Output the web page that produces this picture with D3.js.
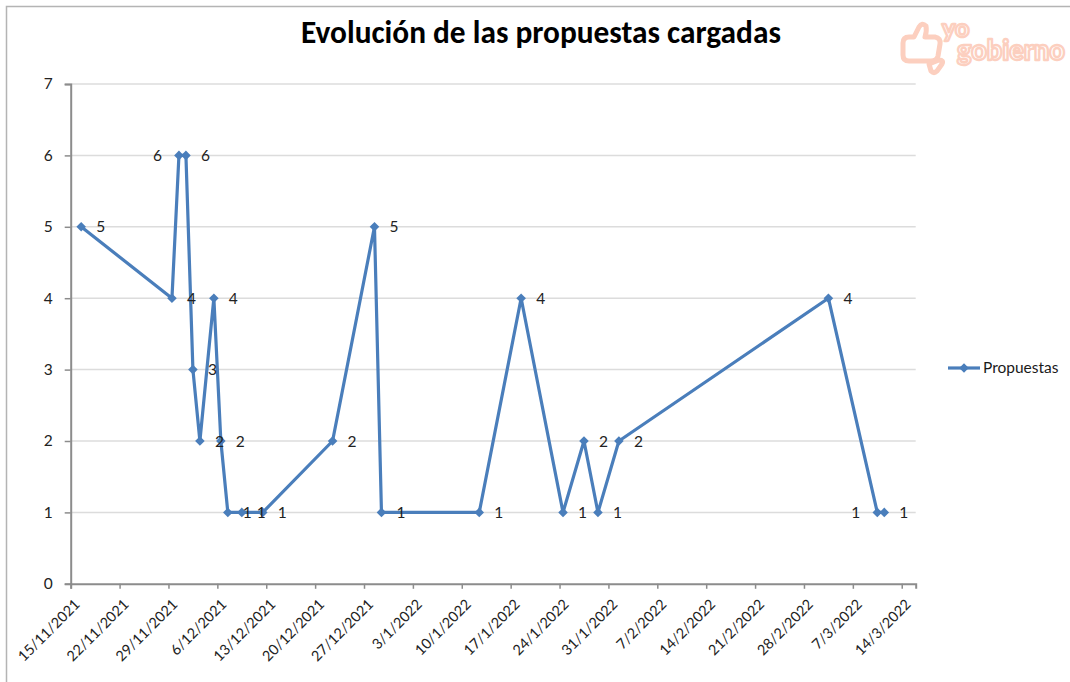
<!DOCTYPE html>
<html>
<head>
<meta charset="utf-8">
<script src="https://cdn.jsdelivr.net/npm/d3@7"></script>
<style>
  html, body { margin: 0; padding: 0; background: #fff; }
  svg { display: block; }
</style>
</head>
<body>
<svg id="chart" width="1070" height="682"></svg>
<script>
// Proposals loaded per day
const dates = [
  "2021-11-16", "2021-11-29", "2021-11-30", "2021-12-01", "2021-12-02",
  "2021-12-03", "2021-12-05", "2021-12-06", "2021-12-07", "2021-12-09",
  "2021-12-12", "2021-12-22", "2021-12-28", "2021-12-29", "2022-01-12",
  "2022-01-18", "2022-01-24", "2022-01-27", "2022-01-29", "2022-02-01",
  "2022-03-03", "2022-03-10", "2022-03-11"
];
const propuestas = [5, 4, 6, 6, 3, 2, 4, 2, 1, 1, 1, 2, 5, 1, 1, 4, 1, 2, 1, 2, 4, 1, 1];
const yTicks = [0, 1, 2, 3, 4, 5, 6, 7];
const axisStart = "2021-11-15";
const axisEnd = "2022-03-16";
const seriesName = "Propuestas";
const title = "Evolución de las propuestas cargadas";

const blue = "#4a7ebb";
const font = "Lato, 'Open Sans', sans-serif";
const ink = "#222";
const svg = d3.select("#chart");

const parse = d3.utcParse("%Y-%m-%d");
const data = dates.map((d, i) => ({ date: parse(d), value: propuestas[i] }));

const x = d3.scaleUtc()
  .domain([parse(axisStart), parse(axisEnd)])
  .range([70.7, 915.7]);
const y = d3.scaleLinear().domain([0, 7]).range([583.8, 84]);

// each day is plotted at its midpoint, ticks sit on day boundaries
const xPos = d => x(d3.utcHour.offset(d.date, 12));

// frame
svg.append("path")
  .attr("d", "M6.5,682 V6.5 H1070")
  .attr("fill", "none").attr("stroke", "#b4b4b4").attr("stroke-width", 1.5);

// title
const t = svg.append("text")
  .attr("x", 541).attr("y", 43)
  .attr("text-anchor", "middle")
  .attr("font-family", "Calibri, Lato, 'Open Sans', sans-serif")
  .attr("font-weight", "bold")
  .attr("font-size", 25)
  .attr("fill", "#000")
  .text(title);
const tw = t.node().getComputedTextLength();
t.attr("font-size", 25 * 480 / tw);

// gridlines
svg.append("g").selectAll("line")
  .data(yTicks.filter(v => v > 0))
  .join("line")
  .attr("x1", x.range()[0]).attr("x2", x.range()[1])
  .attr("y1", d => y(d)).attr("y2", d => y(d))
  .attr("stroke", "#dcdcdc").attr("stroke-width", 1.5);

// y axis
const yAxis = svg.append("g")
  .attr("transform", `translate(${x.range()[0]},0)`)
  .call(d3.axisLeft(y).tickValues(yTicks).tickSize(6).tickPadding(12).tickFormat(d3.format("d")));
yAxis.select(".domain").attr("stroke", "#8c8c8c").attr("stroke-width", 2);
yAxis.selectAll(".tick line").attr("stroke", "#8c8c8c").attr("stroke-width", 1.5);
yAxis.selectAll(".tick text")
  .attr("font-family", font).attr("font-size", 15.5).attr("fill", ink);

// x axis
const xTicks = d3.utcMonday.range(parse(axisStart), parse(axisEnd));
const xAxis = svg.append("g")
  .attr("transform", `translate(0,${y(0)})`)
  .call(d3.axisBottom(x).tickValues(xTicks).tickSize(5).tickFormat(d3.utcFormat("%-d/%-m/%Y")));
xAxis.select(".domain").attr("stroke", "#8c8c8c").attr("stroke-width", 2);
xAxis.selectAll(".tick line").attr("stroke", "#8c8c8c").attr("stroke-width", 1.5);
xAxis.selectAll(".tick text")
  .attr("font-family", font).attr("font-size", 14.5).attr("fill", ink)
  .attr("text-anchor", "end")
  .attr("y", 0).attr("dy", "0.35em")
  .attr("transform", "translate(6,18) rotate(-45)");

// series line
svg.append("path")
  .datum(data)
  .attr("fill", "none")
  .attr("stroke", blue)
  .attr("stroke-width", 3.2)
  .attr("stroke-linejoin", "round")
  .attr("d", d3.line().x(xPos).y(d => y(d.value)));

// diamond markers
const diamond = d3.symbol().type(d3.symbolSquare).size(46);
svg.append("g").selectAll("path")
  .data(data)
  .join("path")
  .attr("d", diamond)
  .attr("fill", blue)
  .attr("transform", d => `translate(${xPos(d)},${y(d.value)}) rotate(45)`);

// value labels: placed left when the next day carries the same value
const oneDay = 864e5;
svg.append("g").selectAll("text")
  .data(data)
  .join("text")
  .each(function (d, i) {
    const next = data[i + 1];
    d.left = next && (next.date - d.date) === oneDay && next.value === d.value;
  })
  .attr("x", d => xPos(d) + (d.left ? -17 : 15))
  .attr("y", d => y(d.value))
  .attr("dy", "0.36em")
  .attr("text-anchor", d => d.left ? "end" : "start")
  .attr("font-family", font).attr("font-size", 15.5).attr("fill", ink)
  .text(d => d.value);

// legend
const lg = svg.append("g").attr("transform", "translate(948,368)");
lg.append("line").attr("x1", 0).attr("x2", 32).attr("stroke", blue).attr("stroke-width", 3.2);
lg.append("path").attr("d", diamond).attr("fill", blue).attr("transform", "translate(16,0) rotate(45)");
lg.append("text").attr("x", 35).attr("dy", "0.35em")
  .attr("font-family", font).attr("font-size", 15.5).attr("fill", "#1a1a1a")
  .text(seriesName);

// brand mark
const brand = svg.append("g").attr("fill", "#fff").attr("stroke", "#fccfbf")
  .attr("stroke-linejoin", "round").attr("stroke-linecap", "round");
brand.append("path")
  .attr("stroke-width", 5)
  .attr("d", "M903,43 Q903,37 909,37 L914,37 L919,27 Q922,22 926,26 Q927,31 925,37 L935,37 Q941,38 940,44 L938,56 Q937,61 931,61 L909,61 Q903,61 903,55 Z");
brand.append("path")
  .attr("stroke-width", 5)
  .attr("d", "M929,64 L939,60 Q944,60 942,64 L937,71 Q934,74 931,71 Z");
brand.append("text")
  .attr("font-family", "Lato, sans-serif").attr("font-weight", 900).attr("font-size", 25)
  .attr("stroke-width", 2.4)
  .attr("x", 942).attr("y", 37)
  .text("yo");
brand.append("text")
  .attr("font-family", "Lato, sans-serif").attr("font-weight", 900).attr("font-size", 28)
  .attr("stroke-width", 2.4)
  .attr("x", 957).attr("y", 60)
  .attr("textLength", 108).attr("lengthAdjust", "spacingAndGlyphs")
  .text("gobierno");
</script>
</body>
</html>
